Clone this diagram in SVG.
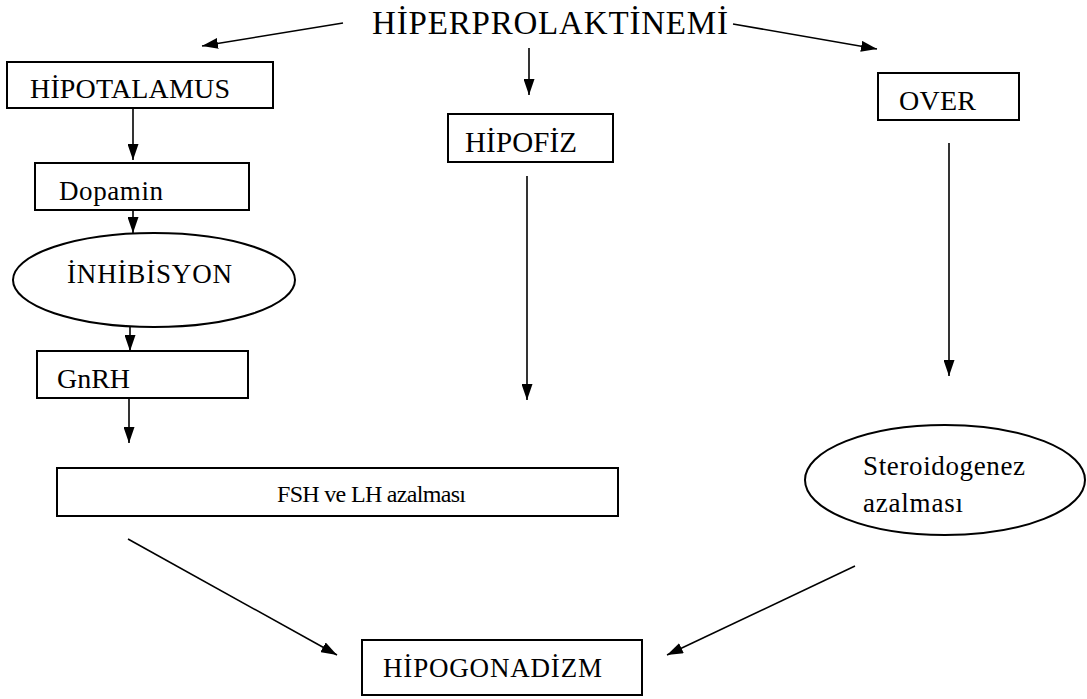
<svg xmlns="http://www.w3.org/2000/svg" width="1087" height="699" viewBox="0 0 1087 699">
<defs>
<marker id="ah" viewBox="0 0 16 11" refX="16" refY="5.5" markerWidth="16" markerHeight="11" markerUnits="userSpaceOnUse" orient="auto"><path d="M0,0 L16,5.5 L0,11 z" fill="#000"/></marker>
</defs>
<style>
.b{fill:#fff;stroke:#000;stroke-width:2}
.t{font-family:'Liberation Serif',serif;fill:#000}
.c{stroke:#000;stroke-width:1.6;fill:none;marker-end:url(#ah)}
</style>
<rect width="1087" height="699" fill="#fff"/>
<g id="connectors">
<line class="c" x1="343" y1="23" x2="202" y2="46"/>
<line class="c" x1="529" y1="48" x2="529" y2="95"/>
<line class="c" x1="733" y1="24" x2="877" y2="49"/>
<line class="c" x1="133" y1="108" x2="133" y2="160"/>
<line class="c" x1="133" y1="210" x2="133" y2="233"/>
<line class="c" x1="130" y1="327" x2="130" y2="351"/>
<line class="c" x1="129" y1="398" x2="129" y2="443"/>
<line class="c" x1="527" y1="176" x2="527" y2="400"/>
<line class="c" x1="949" y1="143" x2="949" y2="376"/>
<line class="c" x1="128" y1="539" x2="337" y2="655"/>
<line class="c" x1="855" y1="566" x2="667" y2="655"/>
</g>
<g id="hiperprolaktinemi"><text class="t" x="372" y="34" font-size="33" textLength="356">HİPERPROLAKTİNEMİ</text></g>
<g id="hipotalamus"><rect class="b" x="7" y="62" width="266" height="46"/><text class="t" x="30" y="98" font-size="28" textLength="200">HİPOTALAMUS</text></g>
<g id="dopamin"><rect class="b" x="35" y="163" width="214" height="47"/><text class="t" x="59" y="200" font-size="27" textLength="104">Dopamin</text></g>
<g id="inhibisyon"><ellipse class="b" cx="154" cy="280" rx="141" ry="47"/><text class="t" x="67" y="283" font-size="27" textLength="165">İNHİBİSYON</text></g>
<g id="gnrh"><rect class="b" x="37" y="351" width="211" height="47"/><text class="t" x="57" y="388" font-size="28" textLength="73">GnRH</text></g>
<g id="fsh-lh"><rect class="b" x="57" y="468" width="561" height="48"/><text class="t" x="277" y="502" font-size="24" textLength="189">FSH ve LH azalması</text></g>
<g id="hipofiz"><rect class="b" x="448" y="114" width="165" height="48"/><text class="t" x="465" y="152" font-size="29" textLength="112">HİPOFİZ</text></g>
<g id="over"><rect class="b" x="878" y="73" width="141" height="47"/><text class="t" x="899" y="110" font-size="28" textLength="77">OVER</text></g>
<g id="steroidogenez"><ellipse class="b" cx="945" cy="480" rx="140" ry="55"/><text class="t" x="863" y="475" font-size="27" textLength="162">Steroidogenez</text><text class="t" x="863" y="512" font-size="27" textLength="100">azalması</text></g>
<g id="hipogonadizm"><rect class="b" x="362" y="640" width="280" height="55"/><text class="t" x="383" y="677" font-size="27" textLength="219">HİPOGONADİZM</text></g>
</svg>
